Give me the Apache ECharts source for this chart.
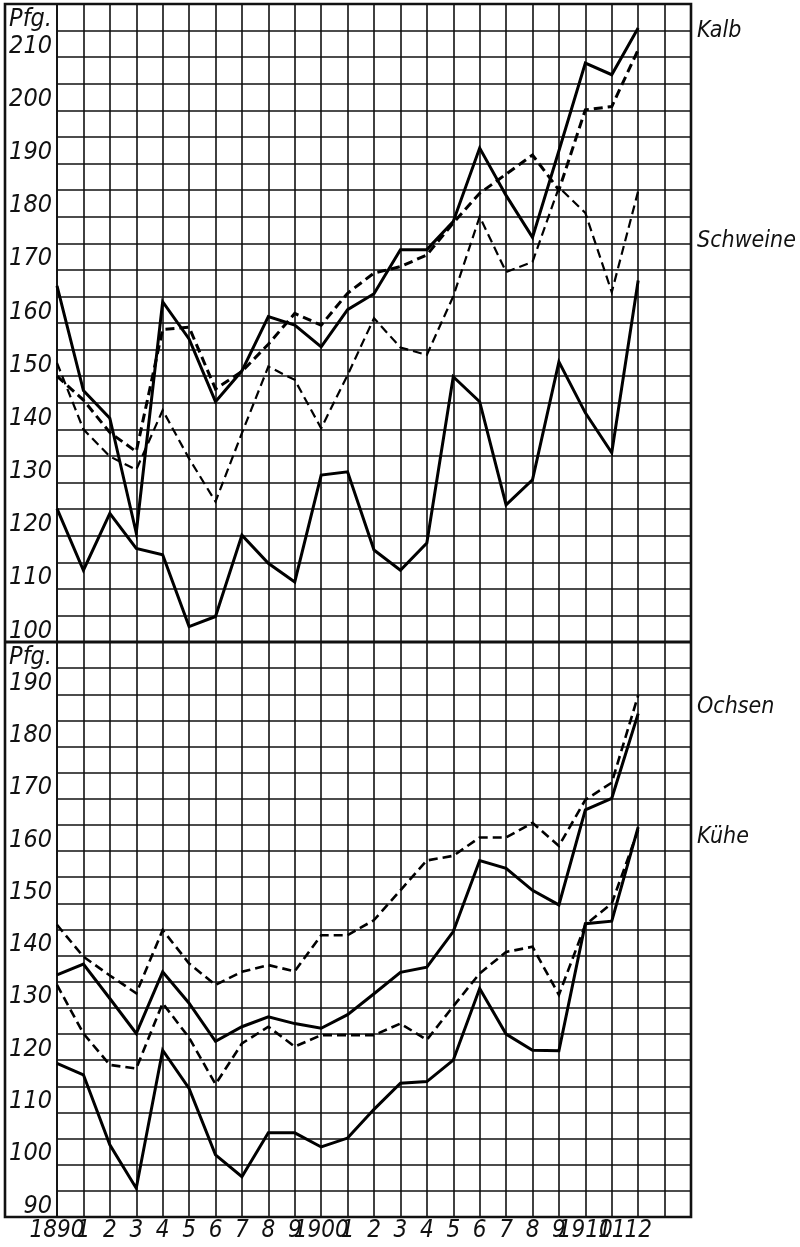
<!DOCTYPE html>
<html>
<head>
<meta charset="utf-8">
<script src="https://cdn.jsdelivr.net/npm/echarts@6/dist/echarts.min.js"></script>
<style>
html,body{margin:0;padding:0;background:#fff;}
#chart{width:800px;height:1247px;}
</style>
</head>
<body>
<div id="chart"></div>
<script>
// categories (years) and tick labels
const years = [1890,1891,1892,1893,1894,1895,1896,1897,1898,1899,1900,1901,1902,1903,1904,1905,1906,1907,1908,1909,1910,1911,1912,1913,1914];
const xTickLabels = ['1890','1','2','3','4','5','6','7','8','9','1900','1','2','3','4','5','6','7','8','9','1910','11','12','',''];
const topYTicks = [100,110,120,130,140,150,160,170,180,190,200,210];
const bottomYTicks = [90,100,110,120,130,140,150,160,170,180,190];
const unitLabel = 'Pfg.';
const topUnitAt = 215;
const bottomUnitAt = 195;

// upper panel (Pfg.)
const kalbSolid = [167, 147.3, 142.1, 120.5, 164, 157, 145.2, 151, 161.2, 159.6, 155.5, 162.5, 165.5, 173.8, 173.8, 179.1, 192.9, 184, 176.1, 192.4, 208.9, 206.7, 215.5];
const kalbDashed = [150, 145.5, 139.4, 135.8, 158.8, 159.2, 147.6, 150.9, 156, 161.8, 159.6, 165.6, 169.4, 170.6, 172.8, 178.8, 184.4, 188, 191.6, 185, 200.1, 200.7, 211.4];
const schweineDashed = [152.5, 140, 134.9, 132.4, 143.6, 134.5, 126.4, 139.3, 151.8, 149.3, 140.2, 150.2, 160.9, 155.4, 154, 165, 180, 169.6, 171.5, 185.5, 180.7, 165.8, 184.8];
const schweineSolid = [125.1, 113.5, 124.2, 117.6, 116.4, 102.9, 104.8, 120.1, 114.8, 111.3, 131.4, 132, 117.3, 113.5, 118.6, 149.9, 145.2, 125.8, 130.5, 152.7, 143.1, 135.6, 168];

// lower panel (Pfg.)
const ochsenDashed = [145.9, 139.8, 136.2, 132.8, 144.9, 138.5, 134.4, 136.9, 138.2, 137, 143.9, 143.9, 146.8, 152.5, 158.2, 159.1, 162.6, 162.6, 165.4, 161, 169.8, 173.1, 189.8];
const ochsenSolid = [136.3, 138.4, 131.8, 125.1, 136.9, 130.9, 123.6, 126.4, 128.3, 127, 126.1, 128.7, 132.7, 136.8, 137.8, 144.6, 158.2, 156.7, 152.5, 149.7, 167.9, 170.1, 186.3];
const kueheDashed = [134.4, 125.1, 119.1, 118.4, 130.9, 124.3, 115.4, 123.2, 126.4, 122.6, 124.8, 124.8, 124.8, 127, 123.9, 130.3, 136.6, 140.7, 141.7, 132.5, 145.9, 150, 164];
const kueheSolid = [119.4, 117.2, 103.8, 95.5, 121.9, 114.6, 101.9, 97.7, 106.1, 106.1, 103.4, 105.1, 110.6, 115.6, 115.9, 120, 133.7, 125, 121.9, 121.8, 146.1, 146.6, 164.6];

const FONT = "'Liberation Sans Narrow','DejaVu Sans Condensed','Liberation Sans',sans-serif";
const INK = '#111';
const chart = echarts.init(document.getElementById('chart'), null, {renderer: 'canvas'});

function xAxis(gridIndex, showLabels) {
  return {
    type: 'category', gridIndex: gridIndex, data: years, boundaryGap: false,
    axisLine: {show: false}, axisTick: {show: false},
    axisLabel: {
      show: showLabels, interval: 0, margin: 2,
      fontSize: 24, fontStyle: 'italic', fontFamily: FONT, color: INK,
      formatter: function (v, i) { return xTickLabels[i]; }
    },
    splitLine: {show: true, interval: 0, lineStyle: {color: INK, width: 1.6}}
  };
}
function yAxis(gridIndex, min, max, ticks, unitAt) {
  return {
    type: 'value', gridIndex: gridIndex, min: min, max: max, interval: 5,
    axisLine: {show: true, lineStyle: {color: INK, width: 1.8}},
    axisTick: {show: false},
    axisLabel: {
      show: true, margin: 5, fontSize: 25, fontStyle: 'italic', fontFamily: FONT, color: INK,
      verticalAlign: 'bottom', lineHeight: 22, showMinLabel: true, showMaxLabel: true,
      formatter: function (v) {
        if (v === unitAt) return unitLabel;
        return ticks.indexOf(v) >= 0 ? String(v) : '';
      }
    },
    splitLine: {show: true, lineStyle: {color: INK, width: 1.6}}
  };
}
function line(name, data, gi, dashed, width) {
  return {
    name: name, type: 'line', xAxisIndex: gi, yAxisIndex: gi, data: data,
    symbol: 'none', smooth: false, silent: true, z: 5,
    lineStyle: {color: '#000', width: width, type: dashed ? [9, 5] : 'solid', cap: 'butt', join: 'miter'}
  };
}

const labelStyle = {fontSize: 23, fontStyle: 'italic', fontFamily: FONT, fill: INK, verticalAlign: 'middle'};

chart.setOption({
  animation: false,
  backgroundColor: '#fff',
  grid: [
    {left: 57, right: 109, top: 4, bottom: 605},
    {left: 57, right: 109, top: 642, bottom: 30}
  ],
  xAxis: [xAxis(0, false), xAxis(1, true)],
  yAxis: [yAxis(0, 100, 220, topYTicks, topUnitAt), yAxis(1, 90, 200, bottomYTicks, bottomUnitAt)],
  series: [
    line('Kalb', kalbSolid, 0, false, 3),
    line('Kalb (gestrichelt)', kalbDashed, 0, true, 3),
    line('Schweine (gestrichelt)', schweineDashed, 0, true, 2.2),
    line('Schweine', schweineSolid, 0, false, 3),
    line('Ochsen (gestrichelt)', ochsenDashed, 1, true, 2.6),
    line('Ochsen', ochsenSolid, 1, false, 3),
    line('Kühe (gestrichelt)', kueheDashed, 1, true, 2.6),
    line('Kühe', kueheSolid, 1, false, 3)
  ],
  graphic: [
    {type: 'rect', z: 100, shape: {x: 5, y: 4, width: 686, height: 1213}, style: {fill: 'none', stroke: INK, lineWidth: 2.6}},
    {type: 'line', z: 100, shape: {x1: 5, y1: 642, x2: 691, y2: 642}, style: {stroke: INK, lineWidth: 2.8}},
    {type: 'text', z: 100, left: 697, top: 20, style: Object.assign({text: 'Kalb'}, labelStyle)},
    {type: 'text', z: 100, left: 697, top: 230, style: Object.assign({text: 'Schweine'}, labelStyle)},
    {type: 'text', z: 100, left: 697, top: 696, style: Object.assign({text: 'Ochsen'}, labelStyle)},
    {type: 'text', z: 100, left: 697, top: 826, style: Object.assign({text: 'Kühe'}, labelStyle)}
  ]
});
</script>
</body>
</html>
